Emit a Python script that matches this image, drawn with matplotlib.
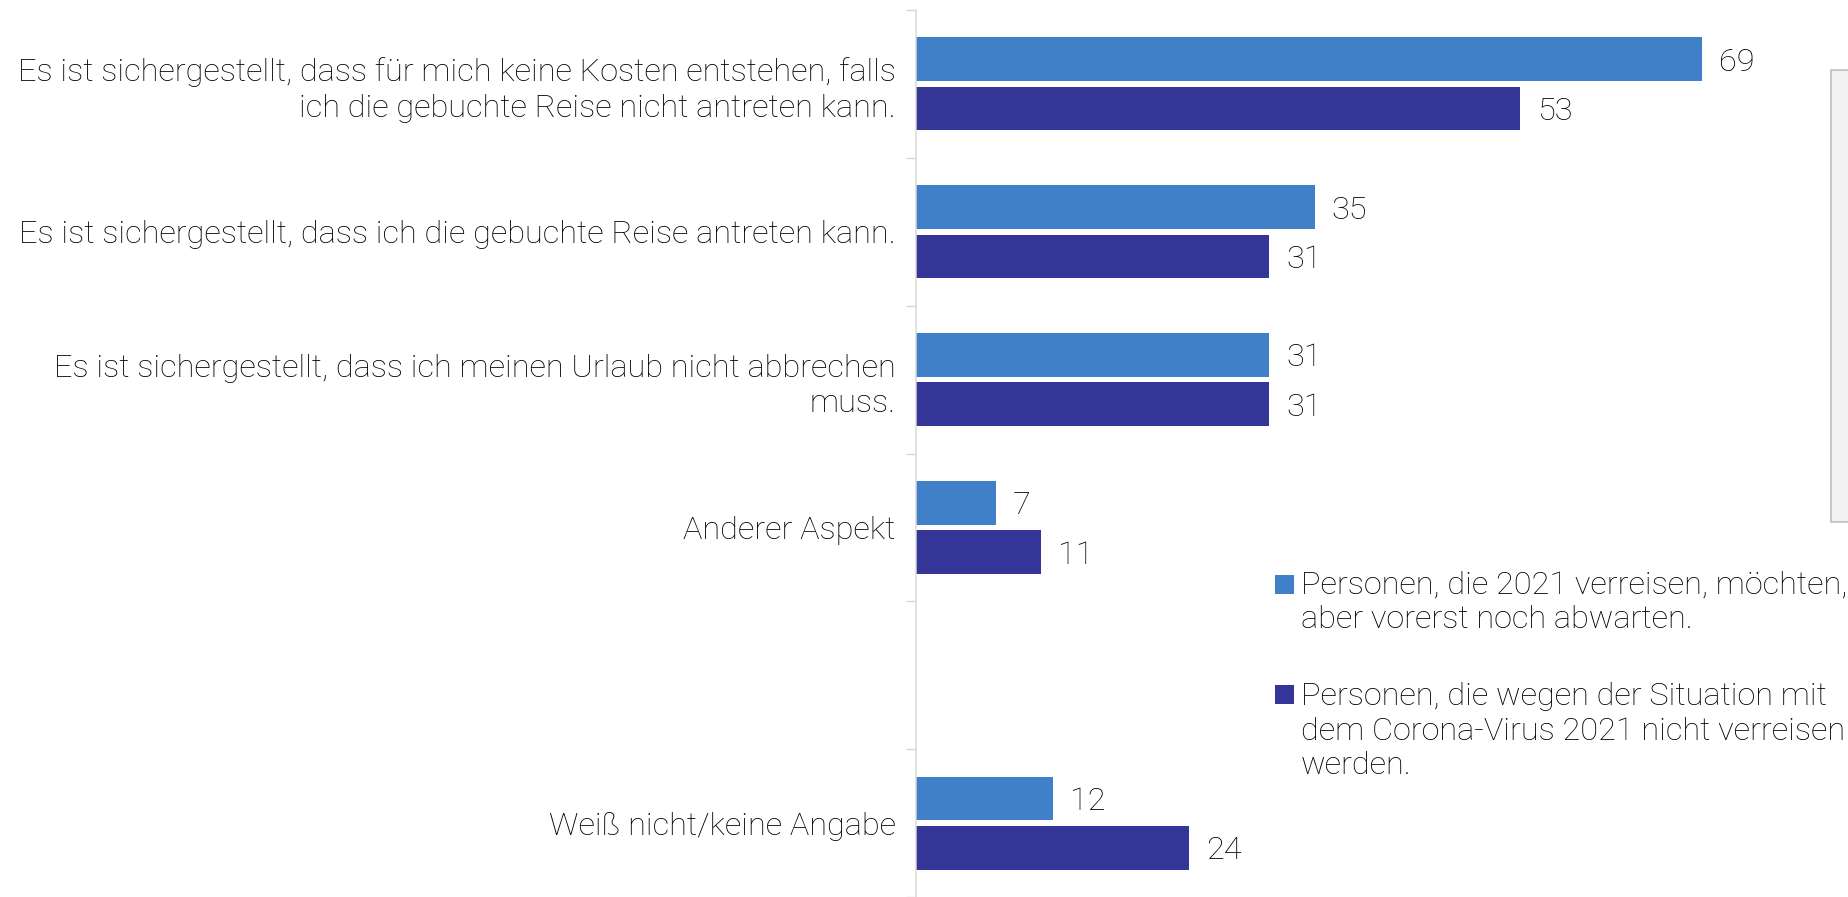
import matplotlib
matplotlib.use("Agg")
import matplotlib.pyplot as plt
from matplotlib.patches import Rectangle
import numpy as np

plt.rcParams['font.family'] = ['Roboto', 'DejaVu Sans']

categories = [
    "Es ist sichergestellt, dass für mich keine Kosten entstehen, falls\nich die gebuchte Reise nicht antreten kann.",
    "Es ist sichergestellt, dass ich die gebuchte Reise antreten kann.",
    "Es ist sichergestellt, dass ich meinen Urlaub nicht abbrechen\nmuss.",
    "Anderer Aspekt",
    "",
    "Weiß nicht/keine Angabe",
]
series_wait = [69, 35, 31, 7, None, 12]
series_not = [53, 31, 31, 11, None, 24]
legend_labels = [
    "Personen, die 2021 verreisen, möchten,\naber vorerst noch abwarten.",
    "Personen, die wegen der Situation mit\ndem Corona-Virus 2021 nicht verreisen\nwerden.",
]
colors = ["#4080C9", "#353598"]
text_color = "#000000"
FS = 23.4
WEIGHT = "light"

W, H = 1849, 897
fig = plt.figure(figsize=(W / 100, H / 100), dpi=100)
ax = fig.add_axes([916 / W, 0, 1 - 916 / W, 1 - 10 / H])

y = np.arange(len(categories))
bh = 0.295
off = 0.167
for vals, sign, col in [(series_wait, -1, colors[0]), (series_not, 1, colors[1])]:
    idx = [i for i, v in enumerate(vals) if v is not None]
    vv = [vals[i] for i in idx]
    ax.barh(y[idx] + sign * off, vv, height=bh, color=col, edgecolor="none")
    for i, v in zip(idx, vv):
        ax.text(v + 1.5, y[i] + sign * off, str(v), va="center_baseline", ha="left",
                fontsize=FS, color=text_color, fontweight=WEIGHT)

ax.set_ylim(len(categories) - 0.5, -0.5)
ax.set_xlim(0, (W - 916) / 11.39)

ax.set_yticks(y)
ax.set_yticklabels(categories, fontsize=FS, color=text_color, fontweight=WEIGHT,
                   linespacing=1.27)
ax.tick_params(axis="y", which="major", length=0, pad=14.5)
ax.set_yticks(np.arange(-0.5, len(categories) + 0.5, 1), minor=True)
ax.tick_params(axis="y", which="minor", length=7.5, width=1.0, color="#d9d9d9")
ax.set_xticks([])
for s in ["top", "right", "bottom"]:
    ax.spines[s].set_visible(False)
ax.spines["left"].set_color("#d9d9d9")
ax.spines["left"].set_linewidth(1.1)

# clipped grey box on right edge
fig.patches.append(Rectangle((1831 / W, 1 - 522 / H), 40 / W, (522 - 70) / H,
                             transform=fig.transFigure, facecolor="#f2f2f2",
                             edgecolor="#bfbfbf", linewidth=1.2))

# legend
font_px = FS * 100 / 72
baselines = [595, 706.7]
squares = [575, 685]
for lab, col, yb, ys in zip(legend_labels, colors, baselines, squares):
    fig.patches.append(Rectangle((1275 / W, 1 - (ys + 19) / H), 19 / W, 19 / H,
                                 transform=fig.transFigure, facecolor=col, edgecolor="none"))
    fig.text(1301 / W, 1 - (yb - 0.75 * font_px) / H, lab, fontsize=FS, color=text_color,
             fontweight=WEIGHT, va="top", ha="left", linespacing=1.24)

fig.savefig("out.png", dpi=100)
